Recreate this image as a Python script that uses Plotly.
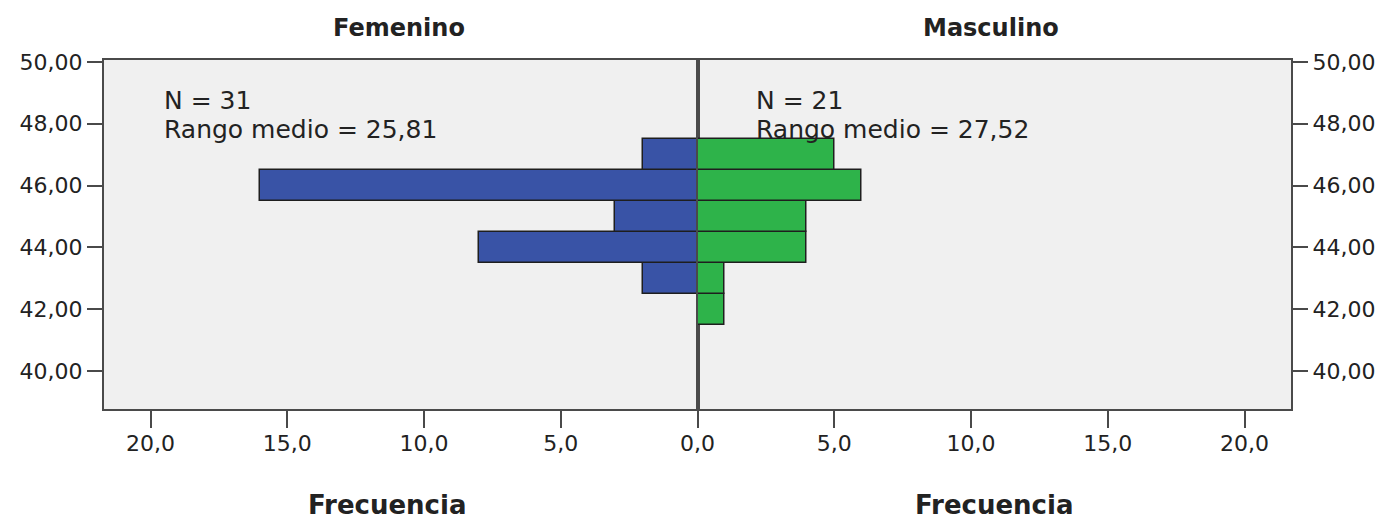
import plotly.graph_objects as go

# ---- data ----
fem_bins = [43, 44, 45, 46, 47]
fem_counts = [2, 8, 3, 16, 2]
masc_bins = [42, 43, 44, 45, 46, 47]
masc_counts = [1, 1, 4, 4, 6, 5]

x_tickvals = [0, 5, 10, 15, 20]
x_ticktext = ["0,0", "5,0", "10,0", "15,0", "20,0"]
y_tickvals = [40, 42, 44, 46, 48, 50]
y_ticktext = ["40,00", "42,00", "44,00", "46,00", "48,00", "50,00"]

panel_titles = ["Femenino", "Masculino"]
stats_fem = ["N = 31", "Rango medio = 25,81"]
stats_masc = ["N = 21", "Rango medio = 27,52"]
x_title = "Frecuencia"

BLUE = "#3953a6"
GREEN = "#2eb34a"
EDGE = "#1e1e1e"
AXC = "#4a4a4a"
TXT = "#222222"
FONT = "DejaVu Sans, Verdana, sans-serif"

fig = go.Figure()
fig.add_trace(go.Bar(y=fem_bins, x=fem_counts, orientation="h", width=1,
                     xaxis="x", yaxis="y",
                     marker=dict(color=BLUE, line=dict(color=EDGE, width=1.5)),
                     showlegend=False, hoverinfo="skip"))
fig.add_trace(go.Bar(y=masc_bins, x=masc_counts, orientation="h", width=1,
                     xaxis="x2", yaxis="y2",
                     marker=dict(color=GREEN, line=dict(color=EDGE, width=1.5)),
                     showlegend=False, hoverinfo="skip"))

xcommon = dict(ticks="outside", ticklen=17, tickwidth=2, tickcolor=AXC,
               showline=True, linecolor=AXC, linewidth=2, mirror=True,
               showgrid=False, zeroline=False, ticklabelstandoff=-3,
               tickfont=dict(family=FONT, size=22, color=TXT))
ycommon = dict(tickvals=y_tickvals, ticktext=y_ticktext, ticks="outside",
               ticklen=15, tickwidth=2, tickcolor=AXC, showline=True,
               linecolor=AXC, linewidth=2, mirror=True, showgrid=False,
               zeroline=False, range=[38.77, 50.06],
               tickfont=dict(family=FONT, size=22, color=TXT))

fig.update_layout(
    width=1379, height=511,
    margin=dict(l=94, r=94, t=52, b=110),
    paper_bgcolor="white", plot_bgcolor="#f0f0f0",
    bargap=0,
    xaxis=dict(domain=[0, 0.5], range=[21.7, 0], anchor="y",
               tickvals=x_tickvals, ticktext=x_ticktext, **xcommon),
    xaxis2=dict(domain=[0.5, 1], range=[0, 21.7], anchor="y2",
                tickvals=x_tickvals[1:], ticktext=x_ticktext[1:], **xcommon),
    yaxis=dict(domain=[0, 1], anchor="x", side="left", **ycommon),
    yaxis2=dict(domain=[0, 1], anchor="x2", side="right", matches="y", **ycommon),
)

ann = []
for txt, xp in zip(panel_titles, [0.2485, 0.747]):
    ann.append(dict(text=txt, x=xp, y=1.0917, xref="paper", yref="paper",
                    xanchor="center", yanchor="middle", showarrow=False,
                    font=dict(family=FONT, size=24, color=TXT, weight="bold")))
for xp in [0.239, 0.75]:
    ann.append(dict(text=x_title, x=xp, y=-0.275, xref="paper", yref="paper",
                    xanchor="center", yanchor="middle", showarrow=False,
                    font=dict(family=FONT, size=26, color=TXT, weight="bold")))
for lines, xp in [(stats_fem, 0.0487), (stats_masc, 0.548)]:
    for line, yp in zip(lines, [0.885, 0.802]):
        ann.append(dict(text=line, x=xp, y=yp, xref="paper", yref="paper",
                        xanchor="left", yanchor="middle", showarrow=False,
                        font=dict(family=FONT, size=25, color=TXT)))
fig.update_layout(annotations=ann)

fig.write_html("out.html")
